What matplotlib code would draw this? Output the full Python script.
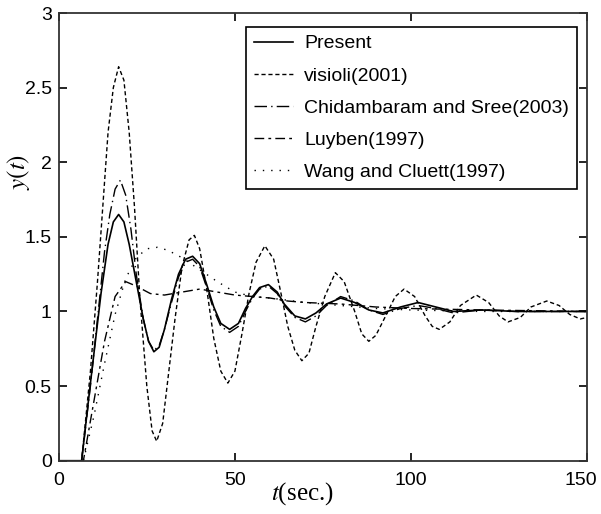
import matplotlib
matplotlib.use("Agg")
import matplotlib.pyplot as plt
from matplotlib.transforms import ScaledTranslation

# step responses (time in sec., output y)
t_present = [0, 6.5, 9, 10, 12, 14, 15.5, 17, 18.5, 20, 22, 24, 25.5, 27, 28.5, 30, 32, 34, 36, 38,
             40, 42, 44, 46, 48.5, 51, 53, 55, 57, 59.5, 62, 64, 67, 70, 73, 76, 80, 84, 88, 92,
             97, 102, 107, 112, 120, 130, 140, 150]
y_present = [0, 0, 0.52, 0.72, 1.12, 1.45, 1.6, 1.65, 1.6, 1.45, 1.2, 0.95, 0.8, 0.73, 0.76, 0.88, 1.08, 1.25, 1.35, 1.37,
             1.32, 1.18, 1.03, 0.92, 0.88, 0.92, 1.02, 1.1, 1.16, 1.18, 1.13, 1.05, 0.97, 0.95, 0.99, 1.05, 1.09, 1.06, 1.01, 0.99,
             1.03, 1.06, 1.03, 1.0, 1.01, 1.0, 1.0, 1.0]

t_visioli = [0, 6.5, 9, 11, 12.5, 14, 15.5, 17, 18.5, 20, 21.5, 23, 25, 26.5, 27.8, 29.5, 31, 33, 35, 37,
             38.5, 40, 42, 44, 46, 48, 50, 52, 54, 56, 58.5, 61, 63, 65, 67, 69, 71, 73, 75.5, 78.5,
             81, 84, 86, 88, 90, 93, 95.5, 98, 101, 104, 106, 108, 111, 114, 118.5, 122, 125, 127.5, 131, 134,
             138.5, 142, 145, 148, 150]
y_visioli = [0, 0, 0.6, 1.2, 1.7, 2.2, 2.5, 2.64, 2.55, 2.2, 1.7, 1.1, 0.5, 0.2, 0.13, 0.25, 0.55, 0.95, 1.3, 1.48,
             1.51, 1.42, 1.15, 0.82, 0.6, 0.52, 0.6, 0.85, 1.12, 1.33, 1.44, 1.35, 1.13, 0.9, 0.74, 0.67, 0.72, 0.9, 1.1, 1.26,
             1.2, 1.0, 0.85, 0.8, 0.84, 0.98, 1.1, 1.15, 1.1, 0.97, 0.9, 0.88, 0.93, 1.04, 1.11, 1.06, 0.97, 0.93, 0.96, 1.03,
             1.07, 1.04, 0.98, 0.95, 0.96]

t_chid = [0, 6.5, 9, 11, 13, 14.5, 16, 17.5, 19, 20.5, 22, 24, 25.5, 27, 28.5, 30, 32, 34, 36, 38,
          40, 42, 44, 46, 48.5, 51, 53, 55, 57, 59.5, 62, 64, 67, 70, 73, 76, 80, 84, 88, 92,
          97, 102, 107, 112, 120, 130, 150]
y_chid = [0, 0, 0.5, 0.95, 1.4, 1.65, 1.82, 1.88, 1.78, 1.55, 1.25, 0.95, 0.8, 0.74, 0.77, 0.88, 1.06, 1.23, 1.33, 1.35,
          1.3, 1.16, 1.01, 0.9, 0.86, 0.9, 1.0, 1.09, 1.15, 1.17, 1.12, 1.04, 0.96, 0.93, 0.97, 1.04, 1.1, 1.07, 1.01, 0.98,
          1.02, 1.04, 1.02, 0.99, 1.01, 1.0, 1.0]

t_luyben = [0, 7, 10, 13, 16, 19, 22, 26, 30, 35, 40, 45, 50, 55, 60, 65, 70, 80, 90, 100, 120, 150]
y_luyben = [0, 0, 0.4, 0.8, 1.1, 1.2, 1.17, 1.12, 1.11, 1.13, 1.15, 1.13, 1.11, 1.1, 1.09, 1.07, 1.06, 1.05, 1.03, 1.02, 1.01, 1.0]

t_wang = [0, 7, 10, 13, 16, 19, 22, 25, 28, 31, 35, 40, 45, 50, 55, 60, 70, 80, 90, 100, 120, 150]
y_wang = [0, 0, 0.3, 0.65, 0.98, 1.22, 1.36, 1.42, 1.43, 1.41, 1.36, 1.28, 1.2, 1.13, 1.1, 1.09, 1.06, 1.04, 1.02, 1.01, 1.0, 1.0]

labels = ["Present", "visioli(2001)", "Chidambaram and Sree(2003)", "Luyben(1997)", "Wang and Cluett(1997)"]

plt.rcParams["font.family"] = ["Liberation Sans", "DejaVu Sans"]
plt.rcParams["mathtext.fontset"] = "stix"

fig = plt.figure(figsize=(6.01, 5.14), dpi=100)
ax = fig.add_axes([0.0977, 0.1037, 0.8795, 0.8710])

ax.plot(t_present, y_present, color="black", lw=1.2, ls="-", label=labels[0])
ax.plot(t_visioli, y_visioli, color="black", lw=1.0, ls=(0, (3, 2)), label=labels[1])
ax.plot(t_chid, y_chid, color="black", lw=1.0, ls=(0, (9, 3, 1, 3)), label=labels[2])
ax.plot(t_luyben, y_luyben, color="black", lw=1.0, ls=(0, (7, 3, 2, 3)), label=labels[3])
ax.plot(t_wang, y_wang, color="black", lw=1.0, ls=(0, (1, 5)), label=labels[4])

ax.set_xlim(0, 150)
ax.set_ylim(0, 3)
ax.set_xticks([0, 50, 100, 150])
ax.set_yticks([0, 0.5, 1, 1.5, 2, 2.5, 3])
ax.set_yticklabels(["0", "0.5", "1", "1.5", "2", "2.5", "3"])
ax.tick_params(direction="in", top=True, right=True, length=6, width=1.2, labelsize=14)
ax.tick_params(axis="y", pad=5)
ax.tick_params(axis="x", pad=8)
for s in ax.spines.values():
    s.set_linewidth(1.3)
    s.set_color("#333333")

# nudge the last x tick label left so it stays inside the figure
last = ax.get_xticklabels()[-1]
last.set_transform(last.get_transform() + ScaledTranslation(-0.06, 0, fig.dpi_scale_trans))

ax.set_ylabel("$y(t)$", fontsize=18, family="Liberation Serif")
ax.yaxis.set_label_coords(-0.05, 0.645)
ax.set_xlabel("$t$(sec.)", fontsize=18, family="Liberation Serif")
ax.xaxis.set_label_coords(0.46, -0.043)

leg = ax.legend(loc="upper right", bbox_to_anchor=(0.9805, 0.9687), borderaxespad=0,
                fancybox=False, framealpha=1, edgecolor="black", fontsize=14,
                handlelength=2.0, handletextpad=0.6, labelspacing=0.75, borderpad=0.4)
leg.get_frame().set_linewidth(1.2)

fig.savefig("out.png", dpi=100)
